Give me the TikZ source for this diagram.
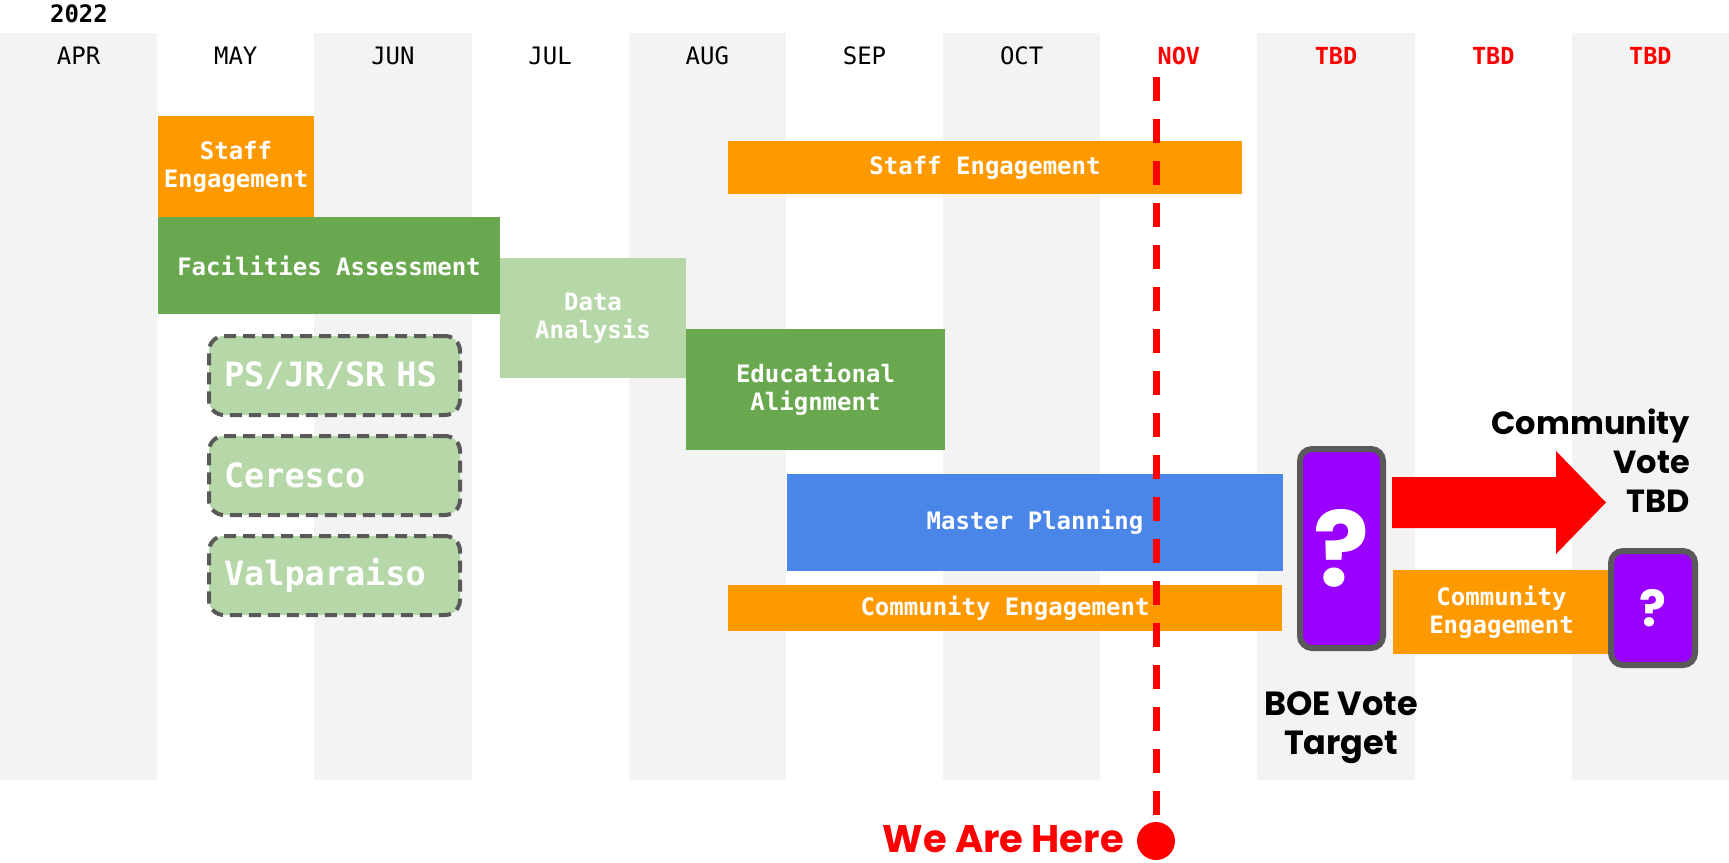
\documentclass[tikz,border=0pt]{standalone}
\usepackage{fontspec}
\setmonofont{DejaVu Sans Mono}
\newfontfamily\popfont{Poppins}
\definecolor{bandgray}{HTML}{F3F3F3}
\definecolor{barorange}{HTML}{FF9900}
\definecolor{bargreen}{HTML}{6AA84F}
\definecolor{barlight}{HTML}{B6D7A8}
\definecolor{barblue}{HTML}{4A86E8}
\definecolor{barpurple}{HTML}{9900FF}
\definecolor{edgegray}{HTML}{595959}
\definecolor{hotred}{HTML}{FF0000}
\tikzset{
  month/.style={font=\ttfamily\fontsize{24}{28}\selectfont, text=black, inner sep=0pt},
  tbdmonth/.style={font=\ttfamily\bfseries\fontsize{23.5}{28}\selectfont, text=hotred, inner sep=0pt},
  bar/.style={anchor=north west, inner sep=0pt, outer sep=0pt, align=center, text=white,
    font=\ttfamily\bfseries\fontsize{24}{28}\selectfont},
  schoolbox/.style={anchor=north west, draw=edgegray, line width=4pt, dash pattern=on 12pt off 7pt,
    fill=barlight, rounded corners=15pt, minimum width=251pt, minimum height=79pt,
    inner xsep=15pt, text width=221pt, align=left, text=white,
    font=\ttfamily\bfseries\fontsize{33.5}{36}\selectfont},
  votebox/.style={draw=edgegray, line width=6pt, fill=barpurple, rounded corners=12pt,
    inner sep=0pt, text=white, font=\popfont\bfseries},
  bigtext/.style={font=\popfont\bfseries\fontsize{32}{39}\selectfont, text=black, inner sep=0pt},
}
\begin{document}
\begin{tikzpicture}[x=1pt,y=-1pt]
\useasboundingbox (0,0) rectangle (1729,862);
% background bands
\foreach \i in {0,2,4,6,8,10}
  \fill[bandgray] ({\i*157.18},33) rectangle ({(\i+1)*157.18},780);
% year and months
\node[font=\ttfamily\bfseries\fontsize{24}{28}\selectfont, inner sep=0pt] (year) at (79,14) {2022};
\node[month] (m0) at ({0.5*157.18},56) {APR};
\node[month] (m1) at ({1.5*157.18},56) {MAY};
\node[month] (m2) at ({2.5*157.18},56) {JUN};
\node[month] (m3) at ({3.5*157.18},56) {JUL};
\node[month] (m4) at ({4.5*157.18},56) {AUG};
\node[month] (m5) at ({5.5*157.18},56) {SEP};
\node[month] (m6) at ({6.5*157.18},56) {OCT};
\node[tbdmonth] (m7) at ({7.5*157.18},56) {NOV};
\node[tbdmonth] (m8) at ({8.5*157.18},56) {TBD};
\node[tbdmonth] (m9) at ({9.5*157.18},56) {TBD};
\node[tbdmonth] (m10) at ({10.5*157.18},56) {TBD};
% bars
\node[bar, fill=barorange, minimum width=156pt, minimum height=101pt] (staff1) at (158,116) {Staff\\Engagement};
\node[bar, fill=bargreen, minimum width=342pt, minimum height=97pt] (facil) at (158,217) {Facilities Assessment};
\node[bar, fill=barlight, minimum width=186pt, minimum height=120pt] (data) at (500,258) {Data\\Analysis};
\node[bar, fill=bargreen, minimum width=259pt, minimum height=121pt] (edu) at (686,329) {Educational\\Alignment};
\node[bar, fill=barorange, minimum width=514pt, minimum height=53pt] (staff2) at (728,141) {Staff Engagement};
\node[bar, fill=barblue, minimum width=496pt, minimum height=97pt] (master) at (787,474) {Master Planning};
\node[bar, fill=barorange, minimum width=554pt, minimum height=46pt] (comm1) at (728,585) {Community Engagement};
\node[bar, fill=barorange, minimum width=217pt, minimum height=84pt] (comm2) at (1393,570) {Community\\Engagement};
% school boxes
\node[schoolbox] (ps) at (207,334) {PS/JR/SR HS};
\node[schoolbox] (ceresco) at (207,434) {Ceresco};
\node[schoolbox] (valpo) at (207,534) {Valparaiso};
% vote boxes
\node[votebox, minimum width=83pt, minimum height=199pt, font=\popfont\bfseries\fontsize{104}{104}\selectfont] (boe) at (1341.5,548.5) {?};
\node[votebox, minimum width=84pt, minimum height=114pt, font=\popfont\bfseries\fontsize{50}{50}\selectfont] (cvote) at (1653,608) {?};
% red arrow
\fill[hotred] (1392,477) -- (1556,477) -- (1556,451) -- (1606,502.5) -- (1556,554) -- (1556,528) -- (1392,528) -- cycle;
% labels
\node[bigtext, align=right, anchor=east] (cvtext) at (1690,461) {Community\\Vote\\TBD};
\node[bigtext, align=center, font=\popfont\bfseries\fontsize{33.5}{39}\selectfont] (boetext) at (1341,728) {BOE Vote\\Target};
% we are here
\node[circle, fill=hotred, minimum size=38pt, inner sep=0pt] (dot) at (1156,841) {};
\coordinate (linetop) at (1156,77);
\draw[hotred, line width=7pt, dash pattern=on 24pt off 18pt] (linetop) -- (dot.north);
\node[font=\popfont\bfseries\fontsize{38.5}{40}\selectfont, text=hotred, inner sep=0pt, anchor=east] (here) at (1124,839) {We Are Here};
\end{tikzpicture}
\end{document}
